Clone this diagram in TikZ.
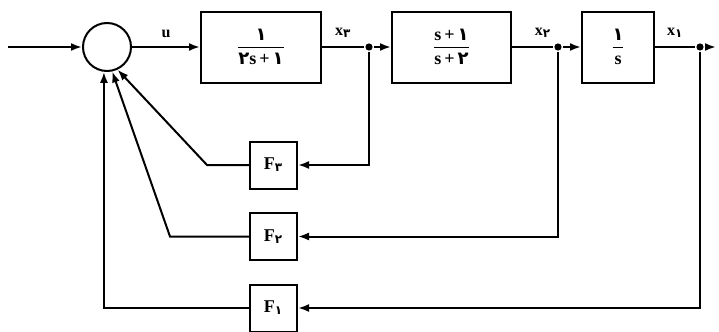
\documentclass[tikz,border=0pt]{standalone}
\usepackage{amsmath}
\usepackage{fontspec}
\setmainfont{Liberation Serif}
\newfontfamily\fanum[Script=Arabic]{DejaVu Sans}
\usetikzlibrary{arrows.meta, positioning}
\tikzset{>={Latex[length=5.5pt,width=4pt]}}
\newcommand{\fa}[1]{{\fanum #1}}
\newcommand{\sig}[2]{$\text{#1}_{\text{\fa{#2}}}$}

\begin{document}
\begin{tikzpicture}[x=0.5pt, y=-0.5pt, on grid, line width=1pt, font=\bfseries,
		block/.style={draw, minimum width=60pt, minimum height=35.5pt, inner sep=0pt, font=\bfseries\small},
		gain/.style={draw, minimum size=23.5pt, inner sep=0pt, font=\bfseries\small},
		junc/.style={circle, fill, inner sep=0pt, minimum size=3.6pt},
		lbl/.style={above=1pt, font=\bfseries\footnotesize}]
		\useasboundingbox (0,0) rectangle (719,332);
		\coordinate (in) at (8,47);
		\node (sum) [circle, draw, minimum size=24pt, inner sep=0pt] at (107,47) {};
		\node (g1) [block, right = 77pt of sum] {$\dfrac{\text{\fa{۱}}}{\text{\fa{۲}s\,+\,\fa{۱}}}$};
		\node (d3) [junc, right = 54pt of g1] {};
		\node (g2) [block, minimum width=59.5pt, right = 41.25pt of d3] {$\dfrac{\text{s\,+\,\fa{۱}}}{\text{s\,+\,\fa{۲}}}$};
		\node (d2) [junc, right = 53.25pt of g2] {};
		\node (g3) [block, minimum width=36pt, right = 30pt of d2] {$\dfrac{\text{\fa{۱}}}{\text{s}}$};
		\node (d1) [junc, right = 41pt of g3] {};
		\coordinate [right = 8pt of d1] (out);
		\node (f3) [gain, below right = 59pt and 6.25pt of g1] {\sig{F}{۳}};
		\node (f2) [gain, below = 35.75pt of f3] {\sig{F}{۲}};
		\node (f1) [gain, below = 35.75pt of f2] {\sig{F}{۱}};
		\coordinate [left = 21pt of f3.west] (k3);
		\coordinate [left = 39.5pt of f2.west] (k2);
		\coordinate (k1) at (sum.-97 |- f1.west);
		% forward path
		\draw[->] (in) -- (sum);
		\draw[->] (sum) -- node[lbl]{u} (g1);
		\draw[->] (g1) -- node[lbl]{\sig{x}{۳}} (d3) -- (g2);
		\draw[->] (g2) -- node[lbl, pos = 0.75]{\sig{x}{۲}} (d2) -- (g3);
		\draw[->] (g3) -- node[lbl]{\sig{x}{۱}} (d1) -- (out);
		% feedback
		\draw[->] (d3) |- (f3);
		\draw[->] (d2) |- (f2);
		\draw[->] (d1) |- (f1);
		\draw[->] (f3) -- (k3) -- (sum.-65);
		\draw[->] (f2) -- (k2) -- (sum.-78);
		\draw[->] (f1) -- (k1) -- (sum.-97);
	\end{tikzpicture}
\end{document}
